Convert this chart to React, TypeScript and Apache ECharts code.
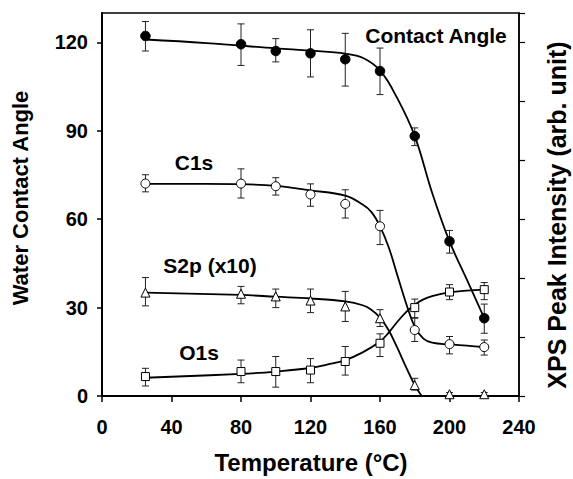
import React, { useEffect, useRef } from "react";
import * as echarts from "echarts";

// Measured temperatures (°C)
const temperatures = [25, 80, 100, 120, 140, 160, 180, 200, 220];

// Water contact angle with error bar limits
const contactAngle = [122.2, 119.4, 117.1, 116.3, 114.3, 110.3, 88.2, 52.5, 26.4];
const contactAngleLow = [117.1, 112.2, 113.4, 108.3, 105.2, 102.3, 85.0, 48.5, 21.3];
const contactAngleHigh = [127.1, 126.3, 121.3, 124.3, 123.1, 118.1, 91.0, 56.2, 31.2];

// C1s peak intensity
const c1s = [72.1, 72.1, 71.2, 68.4, 65.2, 57.6, 22.4, 17.6, 16.6];
const c1sLow = [69.3, 67.2, 68.2, 64.4, 60.4, 51.4, 18.5, 14.3, 13.9];
const c1sHigh = [75.1, 77.1, 74.1, 72.0, 70.0, 63.0, 26.4, 20.2, 19.0];

// S2p (x10) peak intensity
const s2p = [35.1, 34.7, 33.8, 32.4, 30.4, 26.4, 3.7, 0.6, 0.6];
const s2pLow = [30.6, 31.3, 30.0, 28.3, 25.3, 23.6, 2.0, 0.0, 0.0];
const s2pHigh = [40.2, 37.2, 36.3, 36.3, 35.5, 29.3, 6.0, 1.2, 1.2];

// O1s peak intensity
const o1s = [6.6, 8.3, 8.3, 8.8, 11.7, 17.9, 30.0, 35.3, 36.1];
const o1sLow = [3.4, 4.5, 3.0, 4.5, 7.1, 13.4, 26.6, 32.7, 32.7];
const o1sHigh = [9.4, 12.2, 13.4, 12.7, 16.8, 21.1, 32.9, 37.8, 38.5];

// Fitted guide curves
const contactAngleFitT = [25, 60, 100, 120, 140, 150, 160, 170, 180, 190, 200, 210, 220];
const contactAngleFit = [121, 119.8, 118, 117.2, 116.2, 114.8, 110.5, 101, 88.2, 69, 52.5, 39.5, 26.4];

const c1sFitT = [25, 60, 80, 100, 120, 140, 150, 155, 160, 165, 170, 175, 180, 185, 190, 200, 210, 220];
const c1sFit = [72, 72, 71.9, 71.3, 69.8, 68, 65, 62.5, 57.6, 50.5, 41, 31.5, 23.5, 19.5, 18.1, 17.5, 17.1, 16.6];

const s2pFitT = [25, 80, 100, 120, 140, 150, 155, 160, 165, 170, 175, 180, 184];
const s2pFit = [35.1, 34.3, 33.7, 33.1, 32.1, 30.8, 29.3, 26.6, 22.3, 16.3, 9.8, 3.7, 0];

const o1sFitT = [25, 80, 100, 120, 130, 140, 150, 160, 165, 170, 175, 180, 185, 190, 200, 210, 220];
const o1sFit = [6.2, 7.5, 8.3, 9.5, 10.7, 12.2, 14.8, 18.5, 21.5, 25.2, 28.5, 31, 32.8, 33.9, 35.2, 35.8, 36.1];

// Axis ticks
const xTicks = { min: 0, max: 240, interval: 40 };
const yLeftTicks = { min: 0, max: 130, interval: 30 };
const yRightTicks = { min: 0, max: 130, interval: 20 };

const FONT = '"Liberation Sans", Arial, Helvetica, sans-serif';

function pairs(xs: number[], ys: number[]) {
  return xs.map((x, i) => [x, ys[i]]);
}

function errorSeries(low: number[], high: number[]) {
  return {
    type: "custom",
    silent: true,
    z: 1,
    data: temperatures.map((t, i) => [t, low[i], high[i]]),
    encode: { x: 0, y: [1, 2] },
    renderItem: (_params: any, api: any) => {
      const x = api.value(0);
      const lo = api.coord([x, api.value(1)]);
      const hi = api.coord([x, api.value(2)]);
      const hw = 3.5;
      const st = { stroke: "#222", lineWidth: 1 };
      return {
        type: "group",
        children: [
          { type: "line", shape: { x1: lo[0], y1: lo[1], x2: hi[0], y2: hi[1] }, style: st },
          { type: "line", shape: { x1: lo[0] - hw, y1: lo[1], x2: lo[0] + hw, y2: lo[1] }, style: st },
          { type: "line", shape: { x1: hi[0] - hw, y1: hi[1], x2: hi[0] + hw, y2: hi[1] }, style: st },
        ],
      };
    },
  };
}

function fitSeries(xs: number[], ys: number[]) {
  return {
    type: "line",
    data: pairs(xs, ys),
    smooth: 0.4,
    symbol: "none",
    silent: true,
    z: 2,
    lineStyle: { color: "#000", width: 1.8 },
  };
}

function pointSeries(ys: number[], symbol: string, fill: string, size: number) {
  return {
    type: "scatter",
    data: pairs(temperatures, ys),
    symbol,
    symbolSize: size,
    z: 3,
    itemStyle: { color: fill, borderColor: "#000", borderWidth: 1, opacity: 1 },
  };
}

function label(text: string, x: number, y: number, size: number, rotation = 0) {
  return {
    type: "text",
    x,
    y,
    rotation,
    z: 10,
    style: {
      text,
      font: `bold ${size}px ${FONT}`,
      fill: "#000",
      textAlign: "center",
      textVerticalAlign: "middle",
    },
  };
}

export default function App() {
  const ref = useRef<HTMLDivElement>(null);

  useEffect(() => {
    document.body.style.margin = "0";
    if (!ref.current) return;
    const chart = echarts.init(ref.current, undefined, { renderer: "svg" });
    const axisLabelStyle = {
      color: "#000",
      fontSize: 20,
      fontWeight: "bold",
      fontFamily: FONT,
    };
    chart.setOption({
      animation: false,
      backgroundColor: "#fff",
      grid: {
        left: 102,
        right: 54,
        top: 13,
        bottom: 83,
        show: true,
        borderColor: "#000",
        borderWidth: 1.5,
        backgroundColor: "transparent",
      },
      xAxis: {
        type: "value",
        ...xTicks,
        axisLine: { show: true, lineStyle: { color: "#000", width: 2 } },
        axisTick: { show: true, length: 6, lineStyle: { color: "#000", width: 1.5 } },
        axisLabel: { ...axisLabelStyle, margin: 21 },
        splitLine: { show: false },
      },
      yAxis: [
        {
          type: "value",
          position: "left",
          ...yLeftTicks,
          axisLine: { show: true, lineStyle: { color: "#000", width: 2 } },
          axisTick: { show: true, length: 5, lineStyle: { color: "#000", width: 1.5 } },
          axisLabel: { ...axisLabelStyle, margin: 14, showMaxLabel: false },
          splitLine: { show: false },
        },
        {
          type: "value",
          position: "right",
          ...yRightTicks,
          axisLine: { show: true, lineStyle: { color: "#000", width: 1.5 } },
          axisTick: { show: true, length: 6, lineStyle: { color: "#000", width: 1.2 } },
          axisLabel: { show: false },
          splitLine: { show: false },
        },
      ],
      series: [
        errorSeries(contactAngleLow, contactAngleHigh),
        errorSeries(c1sLow, c1sHigh),
        errorSeries(s2pLow, s2pHigh),
        errorSeries(o1sLow, o1sHigh),
        fitSeries(contactAngleFitT, contactAngleFit),
        fitSeries(c1sFitT, c1sFit),
        fitSeries(s2pFitT, s2pFit),
        fitSeries(o1sFitT, o1sFit),
        pointSeries(contactAngle, "circle", "#000", 9.5),
        pointSeries(c1s, "circle", "#fff", 9),
        pointSeries(s2p, "triangle", "#fff", 9),
        pointSeries(o1s, "rect", "#fff", 8),
      ],
      graphic: [
        label("Contact Angle", 436, 35, 21),
        label("C1s", 194, 162, 21),
        label("S2p (x10)", 210, 265, 21),
        label("O1s", 199, 352, 21),
        label("Temperature (°C)", 311, 462, 24),
        label("Water Contact Angle", 20, 198, 22, Math.PI / 2),
        label("XPS Peak Intensity (arb. unit)", 557, 215, 25, Math.PI / 2),
      ],
    });
    return () => chart.dispose();
  }, []);

  return <div ref={ref} style={{ width: 573, height: 479 }} />;
}
